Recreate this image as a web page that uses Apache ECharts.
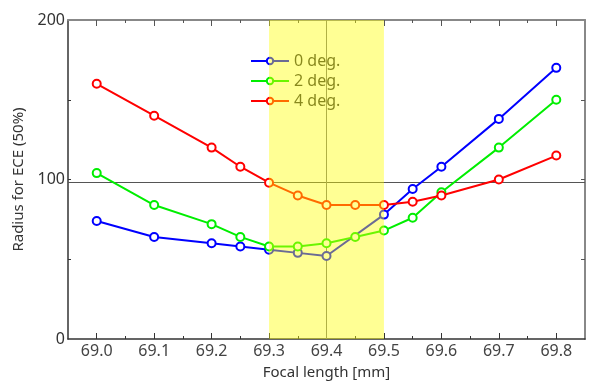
<!DOCTYPE html>
<html>
<head>
<meta charset="utf-8">
<script src="https://cdn.jsdelivr.net/npm/echarts@6/dist/echarts.min.js"></script>
<style>html,body{margin:0;padding:0;background:#fff}#c{width:589px;height:385px}</style>
</head>
<body>
<div id="c"></div>
<script>
// Data
const focal0 = [69.0, 69.1, 69.2, 69.25, 69.3, 69.35, 69.4, 69.5, 69.55, 69.6, 69.7, 69.8];
const deg0   = [74, 64, 60, 58, 56, 54, 52, 78, 94, 108, 138, 170];
const focalN = [69.0, 69.1, 69.2, 69.25, 69.3, 69.35, 69.4, 69.45, 69.5, 69.55, 69.6, 69.7, 69.8];
const deg2   = [104, 84, 72, 64, 58, 58, 60, 64, 68, 76, 92, 120, 150];
const deg4   = [160, 140, 120, 108, 98, 90, 84, 84, 84, 86, 90, 100, 115];
const seriesNames = ['0 deg.', '2 deg.', '4 deg.'];
const xMajorTicks = [69.0, 69.1, 69.2, 69.3, 69.4, 69.5, 69.6, 69.7, 69.8];
const xMinorTicks = [69.05, 69.15, 69.25, 69.35, 69.45, 69.55, 69.65, 69.75];
const yLabels = [0, 100, 200];
const yTicks = [50, 100, 150];
const refLevel = 98;
const bandRange = [69.3, 69.5];
const bandCenter = 69.4;

const pairs = (xs, ys) => xs.map((x, i) => [x, ys[i]]);
const FONT = 'Noto Sans';
const chart = echarts.init(document.getElementById('c'), null, {renderer: 'canvas'});

const axisBase = {type: 'value', min: 68.95, max: 69.85, splitLine: {show: false}};
const lineSeries = (name, color, data, extra) => Object.assign({
  name, type: 'line', data, xAxisIndex: 0, yAxisIndex: 0,
  symbol: 'emptyCircle', symbolSize: 8,
  lineStyle: {color, width: 2},
  itemStyle: {color, borderColor: color, borderWidth: 2},
  z: 2, animation: false
}, extra || {});

chart.setOption({
  animation: false,
  grid: {left: 68, right: 4, top: 20, bottom: 46, containLabel: false},
  legend: {
    orient: 'vertical', left: 245, top: 46, itemWidth: 38, itemHeight: 8, itemGap: 0,
    padding: 5,
    textStyle: {fontFamily: FONT, fontSize: 16, color: '#333', lineHeight: 20},
    data: seriesNames, z: 4
  },
  xAxis: [
    Object.assign({}, axisBase, {
      position: 'bottom',
      name: 'Focal length [mm]', nameLocation: 'middle', nameGap: 26,
      nameTextStyle: {fontFamily: FONT, fontSize: 15, color: '#333'},
      axisLine: {lineStyle: {color: '#333', width: 1.5}},
      axisTick: {inside: true, length: 6, customValues: xMajorTicks, lineStyle: {color: '#333'}},
      axisLabel: {customValues: xMajorTicks, fontFamily: FONT, fontSize: 16, color: '#444', margin: 4,
        formatter: v => v.toFixed(1)}
    }),
    Object.assign({}, axisBase, {
      position: 'bottom',
      axisLine: {show: false},
      axisTick: {inside: true, length: 3, customValues: xMinorTicks, lineStyle: {color: '#333'}},
      axisLabel: {show: false}
    }),
    Object.assign({}, axisBase, {
      position: 'top',
      axisLine: {lineStyle: {color: '#888', width: 2}},
      axisTick: {inside: true, length: 6, customValues: xMajorTicks, lineStyle: {color: '#555'}},
      axisLabel: {show: false}
    }),
    Object.assign({}, axisBase, {
      position: 'top',
      axisLine: {show: false},
      axisTick: {inside: true, length: 3, customValues: xMinorTicks, lineStyle: {color: '#555'}},
      axisLabel: {show: false}
    })
  ],
  yAxis: [
    {
      type: 'value', min: 0, max: 200, position: 'left', splitLine: {show: false},
      name: 'Radius for ECE (50%)', nameLocation: 'middle', nameGap: 37,
      nameTextStyle: {fontFamily: FONT, fontSize: 15, color: '#333'},
      axisLine: {lineStyle: {color: '#333', width: 1.5}},
      axisTick: {inside: true, length: 3, customValues: yTicks, lineStyle: {color: '#333'}},
      axisLabel: {customValues: yLabels, fontFamily: FONT, fontSize: 16, color: '#333', margin: 3}
    },
    {
      type: 'value', min: 0, max: 200, position: 'right', splitLine: {show: false},
      axisLine: {lineStyle: {color: '#888', width: 2}},
      axisTick: {inside: true, length: 4, customValues: yTicks, lineStyle: {color: '#555'}},
      axisLabel: {show: false}
    }
  ],
  series: [
    lineSeries(seriesNames[0], '#0000ff', pairs(focal0, deg0)),
    lineSeries(seriesNames[1], '#00ee00', pairs(focalN, deg2)),
    lineSeries(seriesNames[2], '#ff0000', pairs(focalN, deg4)),
    {
      type: 'line', data: [], silent: true, xAxisIndex: 0, yAxisIndex: 0,
      markLine: {
        silent: true, symbol: 'none', label: {show: false}, z: 1,
        lineStyle: {type: 'solid', color: '#555', width: 1},
        data: [{yAxis: refLevel}, {xAxis: bandCenter, lineStyle: {color: '#777', width: 1}}]
      },
      markArea: {
        silent: true, z: 10,
        itemStyle: {color: 'rgba(255,255,0,0.42)'},
        data: [[{xAxis: bandRange[0]}, {xAxis: bandRange[1]}]]
      }
    }
  ]
});
</script>
</body>
</html>
